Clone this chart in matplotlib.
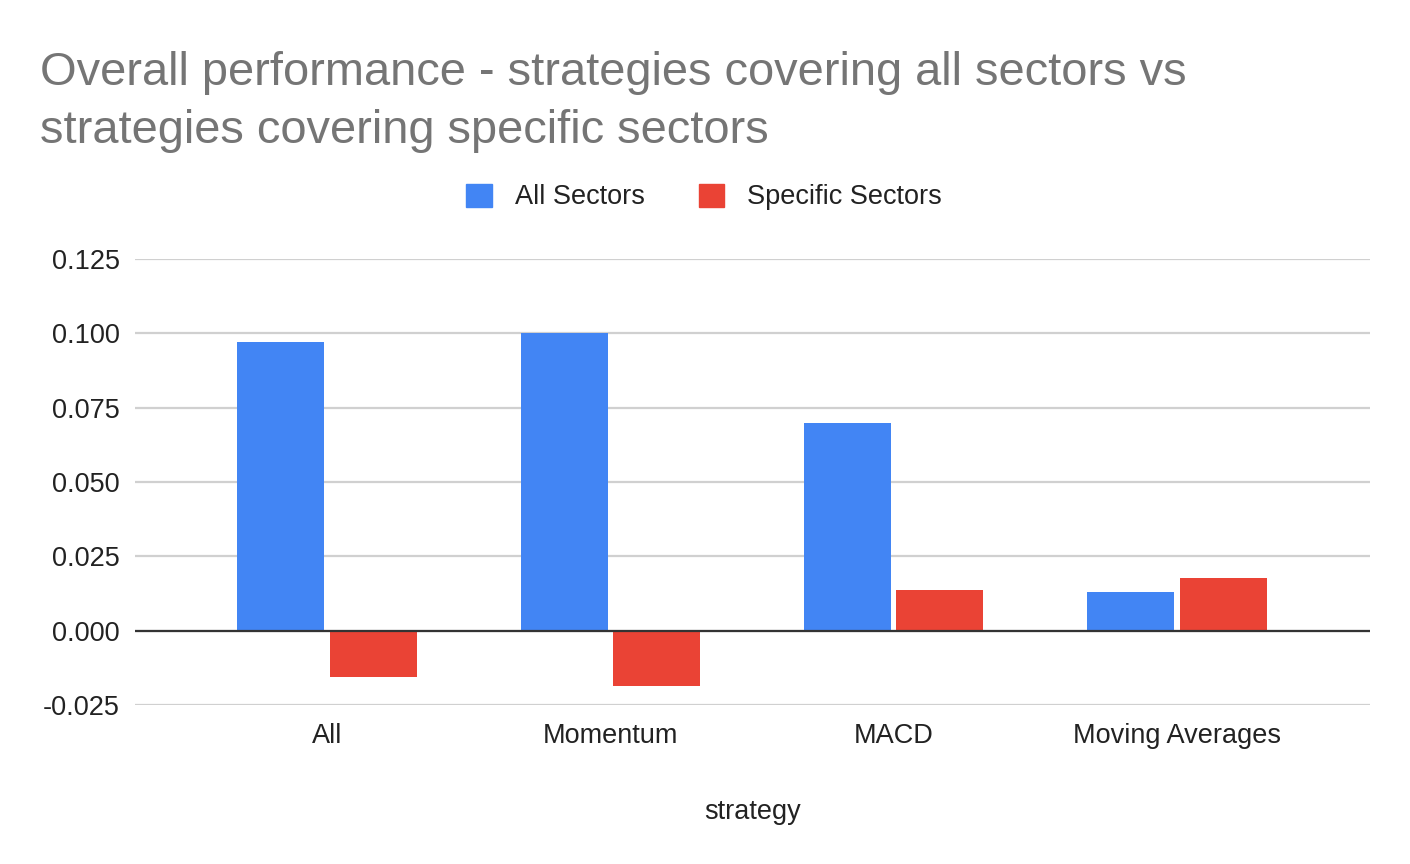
import numpy as np
import matplotlib
matplotlib.use("Agg")
import matplotlib.pyplot as plt
from matplotlib.patches import Patch

# data
strategies = ["All", "Momentum", "MACD", "Moving Averages"]
all_sectors = [0.0971, 0.1001, 0.0700, 0.0129]
specific_sectors = [-0.0155, -0.0187, 0.0137, 0.0176]
series_names = ["All Sectors", "Specific Sectors"]
yticks = [-0.025, 0.0, 0.025, 0.05, 0.075, 0.1, 0.125]

blue = "#4285F4"
red = "#EA4335"

plt.rcParams['font.family'] = ['Liberation Sans', 'DejaVu Sans']

fig = plt.figure(figsize=(14.1, 8.64), dpi=100)
ax = fig.add_axes([135/1410, 1-705/864, (1370-135)/1410, (705-259)/864])

x = np.arange(len(strategies))
w = 0.307
ax.bar(x - 0.163, all_sectors, w, color=blue, zorder=3)
ax.bar(x + 0.163, specific_sectors, w, color=red, zorder=3)

ax.set_xlim(-0.678, 3.681)
ax.set_ylim(-0.025, 0.125)
ax.set_yticks(yticks)
ax.set_yticklabels(["%.3f" % v for v in yticks])
ax.set_xticks(x)
ax.set_xticklabels(strategies)
ax.tick_params(axis='both', length=0, labelsize=19.5, colors="#222222")
ax.tick_params(axis='y', pad=11)
ax.tick_params(axis='x', pad=13)

ax.yaxis.grid(True, color="#d0d0d0", linewidth=1.6, zorder=0)
ax.axhline(0, color="#333333", linewidth=1.6, zorder=4)
for s in ax.spines.values():
    s.set_visible(False)

ax.set_xlabel("strategy", fontsize=19.5, color="#222222", labelpad=36)

# title, two lines
fig.text(40/1410, 1-85/864, "Overall performance - strategies covering all sectors vs",
         fontsize=33.8, color="#757575", ha='left', va='baseline')
fig.text(40/1410, 1-143/864, "strategies covering specific sectors",
         fontsize=33.8, color="#757575", ha='left', va='baseline')

handles = [Patch(color=blue), Patch(color=red)]
fig.legend(handles, series_names, loc='center', bbox_to_anchor=(704/1410, 1-197/864),
           ncol=2, frameon=False, fontsize=19.5, handlelength=0.95, handleheight=0.95,
           handletextpad=0.85, columnspacing=2.0, labelcolor="#222222")

plt.savefig("out.png", dpi=100)
